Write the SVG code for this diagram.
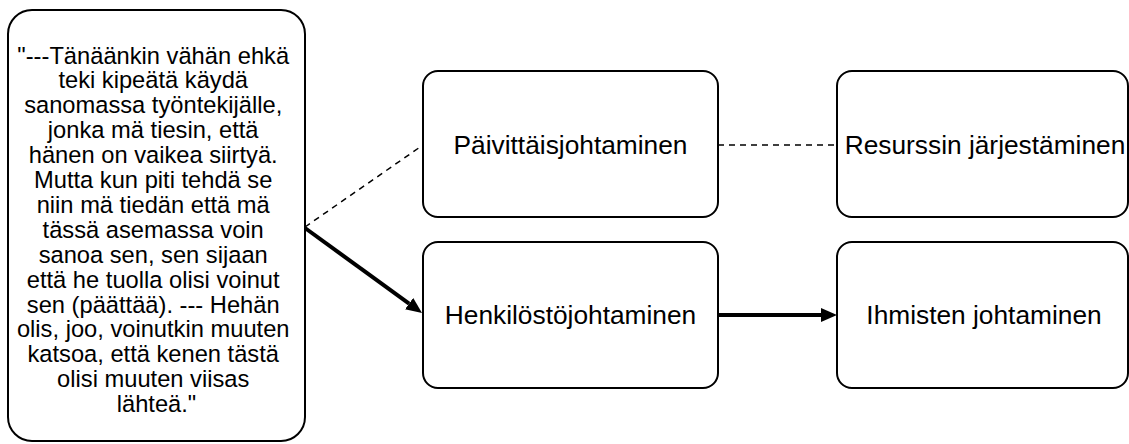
<svg xmlns="http://www.w3.org/2000/svg" width="1129" height="444" viewBox="0 0 1129 444">
  <style>
    .box { fill: #ffffff; stroke: #000000; stroke-width: 2; }
    .quote { font-family: "Liberation Sans", Arial, sans-serif; font-size: 23.7px; fill: #000000; text-anchor: middle; }
    .label { font-family: "Liberation Sans", Arial, sans-serif; font-size: 26.3px; fill: #000000; text-anchor: middle; dominant-baseline: central; }
    .dash { fill: none; stroke: #000000; stroke-width: 1.5; stroke-dasharray: 6 5; }
    .thick { fill: none; stroke: #000000; stroke-width: 4; }
  </style>
  <defs>
    <marker id="arrow" viewBox="0 0 16 14" refX="0" refY="7" markerWidth="16" markerHeight="14" markerUnits="userSpaceOnUse" orient="auto">
      <path d="M0,0 L16,7 L0,14 Z" fill="#000000"/>
    </marker>
  </defs>

  <rect width="1129" height="444" fill="#ffffff"/>

  <!-- connectors -->
  <g id="connectors">
    <line class="dash" x1="305" y1="227" x2="423" y2="145"/>
    <line class="thick" x1="305" y1="228" x2="409.1" y2="303.6" marker-end="url(#arrow)"/>
    <line class="dash" x1="718" y1="145" x2="837" y2="145"/>
    <line class="thick" x1="718" y1="315" x2="821" y2="315" marker-end="url(#arrow)"/>
  </g>

  <!-- interview quote -->
  <g id="quote">
    <rect class="box" x="8" y="10" width="297" height="431" rx="24" ry="24"/>
    <text class="quote">
      <tspan x="156.5" y="63.5">"---Tänäänkin vähän ehkä</tspan>
      <tspan x="156.5" y="88.4">teki kipeätä käydä</tspan>
      <tspan x="156.5" y="113.3">sanomassa työntekijälle,</tspan>
      <tspan x="156.5" y="138.2">jonka mä tiesin, että</tspan>
      <tspan x="156.5" y="163.1">hänen on vaikea siirtyä.</tspan>
      <tspan x="156.5" y="188">Mutta kun piti tehdä se</tspan>
      <tspan x="156.5" y="212.9">niin mä tiedän että mä</tspan>
      <tspan x="156.5" y="237.8">tässä asemassa voin</tspan>
      <tspan x="156.5" y="262.7">sanoa sen, sen sijaan</tspan>
      <tspan x="156.5" y="287.6">että he tuolla olisi voinut</tspan>
      <tspan x="156.5" y="312.5">sen (päättää). --- Hehän</tspan>
      <tspan x="156.5" y="337.4">olis, joo, voinutkin muuten</tspan>
      <tspan x="156.5" y="362.3">katsoa, että kenen tästä</tspan>
      <tspan x="156.5" y="387.2">olisi muuten viisas</tspan>
      <tspan x="156.5" y="412.1">lähteä."</tspan>
    </text>
  </g>

  <g id="paivittaisjohtaminen">
    <rect class="box" x="423" y="71" width="295" height="146" rx="15" ry="15"/>
    <text class="label" x="570.5" y="145">Päivittäisjohtaminen</text>
  </g>

  <g id="resurssin-jarjestaminen">
    <rect class="box" x="837" y="71" width="291" height="146" rx="15" ry="15"/>
    <text class="label" x="985" y="145">Resurssin järjestäminen</text>
  </g>

  <g id="henkilostojohtaminen">
    <rect class="box" x="423" y="242" width="295" height="146" rx="15" ry="15"/>
    <text class="label" x="570.5" y="315">Henkilöstöjohtaminen</text>
  </g>

  <g id="ihmisten-johtaminen">
    <rect class="box" x="837" y="242" width="291" height="146" rx="15" ry="15"/>
    <text class="label" x="984" y="315">Ihmisten johtaminen</text>
  </g>
</svg>
